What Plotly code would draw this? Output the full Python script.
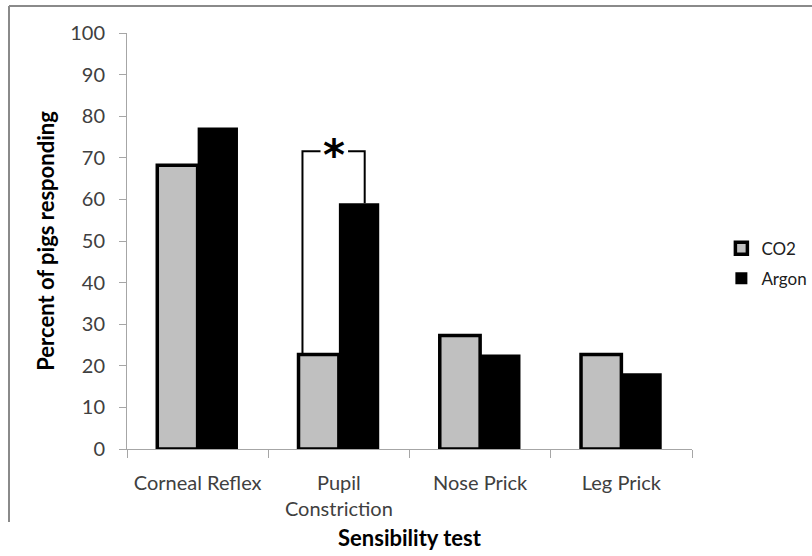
import plotly.graph_objects as go

# Sensibility tests and percentage of pigs responding per gas
tests = ["Corneal Reflex", "Pupil<br>Constriction", "Nose Prick", "Leg Prick"]
co2_pct = [68.2, 22.7, 27.3, 22.7]
argon_pct = [77.3, 59.1, 22.7, 18.2]

# Significant difference between gases (index of the test)
sig_index = 1
sig_level = 71.6

y_ticks = [0, 10, 20, 30, 40, 50, 60, 70, 80, 90, 100]

FONT = "Lato"
bargap = 1.5 / 3.5
bar_w = (1 - bargap) / 2

fig = go.Figure()
fig.add_trace(go.Bar(
    name="CO2", x=tests, y=co2_pct, legendgroup="co2",
    marker=dict(color="#C0C0C0", line=dict(color="black", width=3.5)),
))
fig.add_trace(go.Bar(
    name="Argon", x=tests, y=argon_pct, legendgroup="argon",
    marker=dict(color="black", line=dict(color="black", width=0)),
))

# Significance bracket between the two bars of one test
left_x = sig_index - bar_w + 0.028
right_x = sig_index + bar_w * 0.64
gap_l = sig_index - 0.13
gap_r = sig_index + 0.065
fig.add_trace(go.Scatter(
    x=[left_x, left_x, gap_l, None, gap_r, right_x, right_x],
    y=[co2_pct[sig_index], sig_level, sig_level, None, sig_level, sig_level, argon_pct[sig_index]],
    mode="lines", line=dict(color="black", width=2),
    xaxis="x2", showlegend=False, hoverinfo="skip",
))
fig.add_annotation(
    x=(gap_l + gap_r) / 2, y=sig_level, xref="x2", yref="y",
    text="<b>*</b>", showarrow=False, yshift=-4,
    font=dict(family="DejaVu Sans", size=42, color="black"),
)

fig.update_layout(
    width=812, height=556,
    margin=dict(l=127, r=120, t=33, b=107, autoexpand=False),
    paper_bgcolor="white", plot_bgcolor="white",
    barmode="group", bargap=bargap, bargroupgap=0,
    font=dict(family=FONT, color="#404040"),
    showlegend=True,
    legend=dict(
        x=1.052, xanchor="left", y=0.525, yanchor="top",
        font=dict(family=FONT, size=17, color="#202020"),
        bgcolor="rgba(0,0,0,0)", tracegroupgap=5,
    ),
    xaxis=dict(
        type="category", range=[-0.5, 3.5], automargin=False,
        showline=True, linecolor="#A6A6A6", linewidth=1,
        ticks="outside", tickson="boundaries", ticklen=8, tickcolor="#A6A6A6",
        tickfont=dict(family=FONT, size=20, color="#404040"), tickangle=0,
        ticklabelstandoff=16,
        showgrid=False, zeroline=False, layer="below traces",
        title=dict(text="<b>Sensibility test</b>", standoff=11,
                   font=dict(family=FONT, size=22, color="black")),
    ),
    xaxis2=dict(
        overlaying="x", range=[-0.5, 3.5], visible=False,
    ),
    yaxis=dict(
        range=[0, 100], tickvals=y_ticks, automargin=False,
        showline=True, linecolor="#A6A6A6", linewidth=1,
        ticks="outside", ticklen=7, tickcolor="#A6A6A6",
        tickfont=dict(family=FONT, size=20, color="#404040"),
        ticklabelstandoff=10,
        showgrid=False, zeroline=False, layer="below traces",
        title=dict(text="<b>Percent of pigs responding</b>", standoff=9,
                   font=dict(family=FONT, size=22, color="black")),
    ),
    shapes=[
        dict(type="line", xref="paper", yref="paper",
             x0=(9 - 127) / 565, x1=(812 - 127) / 565,
             y0=(449 - 6) / 416, y1=(449 - 6) / 416,
             line=dict(color="#8A8A8A", width=2)),
        dict(type="line", xref="paper", yref="paper",
             x0=(9 - 127) / 565, x1=(9 - 127) / 565,
             y0=(449 - 6) / 416, y1=(449 - 522) / 416,
             line=dict(color="#8A8A8A", width=2)),
    ],
)

fig.write_html("out.html")
